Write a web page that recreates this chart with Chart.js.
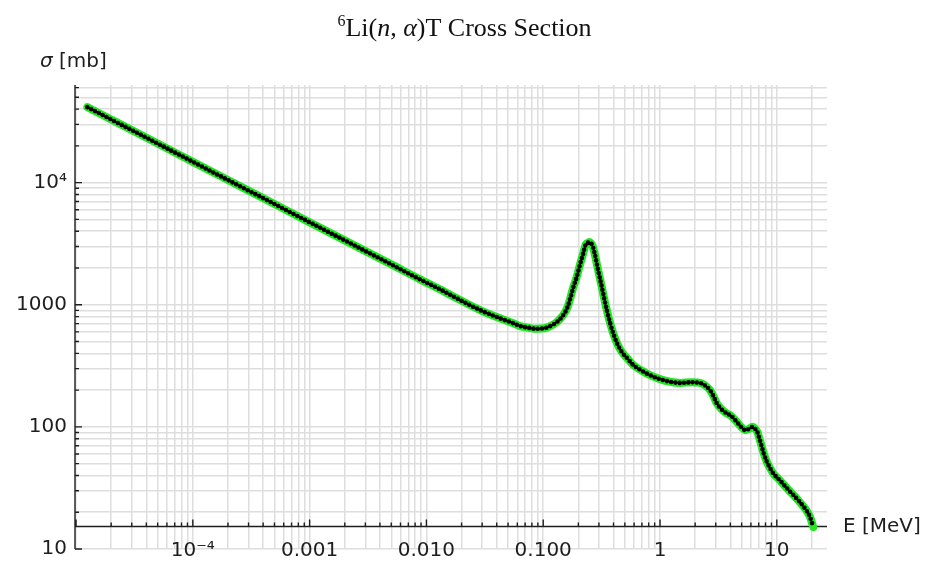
<!DOCTYPE html>
<html>
<head>
<meta charset="utf-8">
<title>6Li(n,α)T Cross Section</title>
<script src="https://cdn.jsdelivr.net/npm/chart.js@4.4.1/dist/chart.umd.min.js"></script>
<style>
  html, body { margin: 0; padding: 0; background: #fff; }
  #wrap { position: relative; width: 929px; height: 566px; }
</style>
</head>
<body>
<div id="wrap"><canvas id="xsChart"></canvas></div>
<script>
// neutron energy [MeV]
const energy = [
    1.25e-5, 2e-5, 5e-5, 1e-4, 2e-4, 5e-4, 1e-3, 2e-3, 5e-3, 8.81e-3,
    0.0131, 0.0194, 0.0288, 0.0427, 0.0555, 0.0633, 0.075, 0.085, 0.096, 0.107,
    0.122, 0.131, 0.142, 0.154, 0.163, 0.170, 0.181, 0.194, 0.207, 0.220,
    0.232, 0.243, 0.248, 0.256, 0.265, 0.275, 0.287, 0.300, 0.317, 0.333,
    0.350, 0.372, 0.398, 0.430, 0.470, 0.530, 0.590, 0.700, 0.821, 1.0,
    1.22, 1.5, 1.87, 2.06, 2.27, 2.51, 2.68, 2.87, 3.06, 3.35,
    3.72, 3.98, 4.25, 4.54, 4.95, 5.35, 5.75, 6.21, 6.5, 6.81,
    7.1, 7.43, 7.8, 8.2, 8.75, 9.34, 10.6, 12.5, 14.8, 17.4,
    19.2, 20.5
];
// cross section [mb]
const sigma = [
    41500, 32900, 20900, 14800, 10500, 6680, 4730, 3365, 2140, 1615,
    1337, 1093, 905, 774, 705, 669, 648, 636, 638, 650,
    690, 722, 780, 870, 980, 1120, 1390, 1698, 2150, 2637,
    3140, 3230, 3260, 3200, 3030, 2650, 2183, 1790, 1405, 1120,
    905, 720, 583, 480, 412, 360, 321, 288, 265, 246,
    234, 229, 232, 231, 227, 213, 200, 178, 156, 140,
    129, 125, 118, 110, 100, 94, 96, 100, 97, 91,
    80, 69, 59, 52, 46, 41.5, 36.6, 30.7, 25.9, 21.5,
    18.4, 15.1
];

// labelled ticks
const xLabelValues = [1e-4, 0.001, 0.01, 0.1, 1, 10];
const xLabelTexts = ['10⁻⁴', '0.001', '0.010', '0.100', '1', '10'];
const yLabelValues = [10, 100, 1000, 10000];
const yLabelTexts = ['10', '100', '1000', '10⁴'];

// plot range and where the horizontal axis crosses
const xRange = [9.8e-6, 26.9];
const yRange = [10, 63000];
const xAxisAt = 15.3;

const tickFont = { family: '"DejaVu Sans"', size: 20 };
const inkColor = '#1e1e1e';
const gridColor = '#dedede';

// 1..9 x 10^n inside a range
function logTicks(min, max) {
    const out = [];
    for (let e = Math.floor(Math.log10(min)); e <= Math.ceil(Math.log10(max)); e++) {
        for (let m = 1; m <= 9; m++) {
            const v = parseFloat((m * Math.pow(10, e)).toPrecision(6));
            if (v >= min * 0.9999 && v <= max * 1.0001) out.push(v);
        }
    }
    return out;
}

function sameValue(a, b) {
    return Math.abs(Math.log10(a) - Math.log10(b)) < 1e-6;
}

function labelFor(value, values, texts) {
    const i = values.findIndex(v => sameValue(v, value));
    return i >= 0 ? texts[i] : '';
}

function isDecade(v) {
    const l = Math.log10(v);
    return Math.abs(l - Math.round(l)) < 1e-6;
}

function noPadding(scale) {
    scale.paddingTop = 0;
    scale.paddingBottom = 0;
    scale.paddingLeft = 0;
    scale.paddingRight = 0;
}

const points = energy.map((e, i) => ({ x: e, y: sigma[i] }));

// axis lines with inward ticks, title and axis names
const decorations = {
    id: 'decorations',
    beforeDatasetsDraw(chart) {
        const { ctx, chartArea: area, scales: { x, y } } = chart;
        const y0 = y.getPixelForValue(xAxisAt);
        ctx.save();
        ctx.strokeStyle = inkColor;
        ctx.lineWidth = 1.4;
        ctx.beginPath();
        ctx.moveTo(area.left, area.top);
        ctx.lineTo(area.left, area.bottom);
        ctx.moveTo(area.left, y0);
        ctx.lineTo(area.right, y0);
        x.ticks.forEach(t => {
            const px = x.getPixelForValue(t.value);
            ctx.moveTo(px, y0);
            ctx.lineTo(px, y0 - (isDecade(t.value) ? 7 : 4));
        });
        y.ticks.forEach(t => {
            const py = y.getPixelForValue(t.value);
            ctx.moveTo(area.left, py);
            ctx.lineTo(area.left + (isDecade(t.value) ? 7 : 4), py);
        });
        ctx.stroke();
        ctx.restore();
    },
    afterDraw(chart) {
        const { ctx, chartArea: area, scales: { y } } = chart;
        ctx.save();
        ctx.fillStyle = '#111';
        ctx.textBaseline = 'alphabetic';

        // title with italic n and alpha
        const serif = '"Liberation Serif", "DejaVu Serif", serif';
        const parts = [
            { t: '6', f: '16px ' + serif, dy: -10 },
            { t: 'Li(', f: '26px ' + serif, dy: 0 },
            { t: 'n', f: 'italic 26px ' + serif, dy: 0 },
            { t: ', ', f: '26px ' + serif, dy: 0 },
            { t: 'α', f: 'italic 26px ' + serif, dy: 0 },
            { t: ')T Cross Section', f: '26px ' + serif, dy: 0 }
        ];
        let total = 0;
        parts.forEach(p => { ctx.font = p.f; p.w = ctx.measureText(p.t).width; total += p.w; });
        let cx = chart.width / 2 - total / 2;
        parts.forEach(p => {
            ctx.font = p.f;
            ctx.fillText(p.t, cx, 36 + p.dy);
            cx += p.w;
        });

        // axis names
        ctx.fillStyle = inkColor;
        ctx.textBaseline = 'middle';
        ctx.font = 'italic 20px "DejaVu Sans"';
        ctx.fillText('σ', 40, 62);
        const sw = ctx.measureText('σ').width;
        ctx.font = '20px "DejaVu Sans"';
        ctx.fillText(' [mb]', 40 + sw, 62);
        ctx.fillText('E [MeV]', area.right + 16, y.getPixelForValue(xAxisAt));
        ctx.restore();
    }
};

new Chart(document.getElementById('xsChart'), {
    type: 'line',
    data: {
        datasets: [
            {
                // dotted black trace on top
                data: points,
                borderColor: '#000',
                borderWidth: 4.6,
                borderDash: [0, 4.3],
                borderCapStyle: 'round',
                pointRadius: 0,
                cubicInterpolationMode: 'monotone',
                fill: false
            },
            {
                data: points,
                borderColor: '#22e622',
                borderWidth: 8,
                borderCapStyle: 'round',
                borderJoinStyle: 'round',
                pointRadius: 0,
                cubicInterpolationMode: 'monotone',
                fill: false
            }
        ]
    },
    options: {
        responsive: true,
        maintainAspectRatio: false,
        animation: false,
        layout: { padding: { top: 85, right: 102, left: 0, bottom: 0 } },
        plugins: {
            legend: { display: false },
            tooltip: { enabled: false },
            title: { display: false }
        },
        scales: {
            x: {
                type: 'logarithmic',
                min: xRange[0],
                max: xRange[1],
                afterBuildTicks: scale => {
                    scale.ticks = logTicks(xRange[0], xRange[1]).map(v => ({ value: v }));
                },
                afterFit: scale => { scale.height = 17; noPadding(scale); },
                border: { display: false },
                grid: { color: gridColor, lineWidth: 1.5, drawTicks: false },
                ticks: {
                    autoSkip: false,
                    maxRotation: 0,
                    minRotation: 0,
                    mirror: true,
                    padding: -14,
                    color: inkColor,
                    font: tickFont,
                    callback: value => labelFor(value, xLabelValues, xLabelTexts)
                }
            },
            y: {
                type: 'logarithmic',
                min: yRange[0],
                max: yRange[1],
                afterBuildTicks: scale => {
                    scale.ticks = logTicks(yRange[0], yRange[1]).map(v => ({ value: v }));
                },
                afterFit: scale => { scale.width = 75; noPadding(scale); },
                border: { display: false },
                grid: { color: gridColor, lineWidth: 1.5, drawTicks: false },
                ticks: {
                    autoSkip: false,
                    padding: 8,
                    color: inkColor,
                    font: tickFont,
                    callback: value => labelFor(value, yLabelValues, yLabelTexts)
                }
            }
        }
    },
    plugins: [decorations]
});
</script>
</body>
</html>
